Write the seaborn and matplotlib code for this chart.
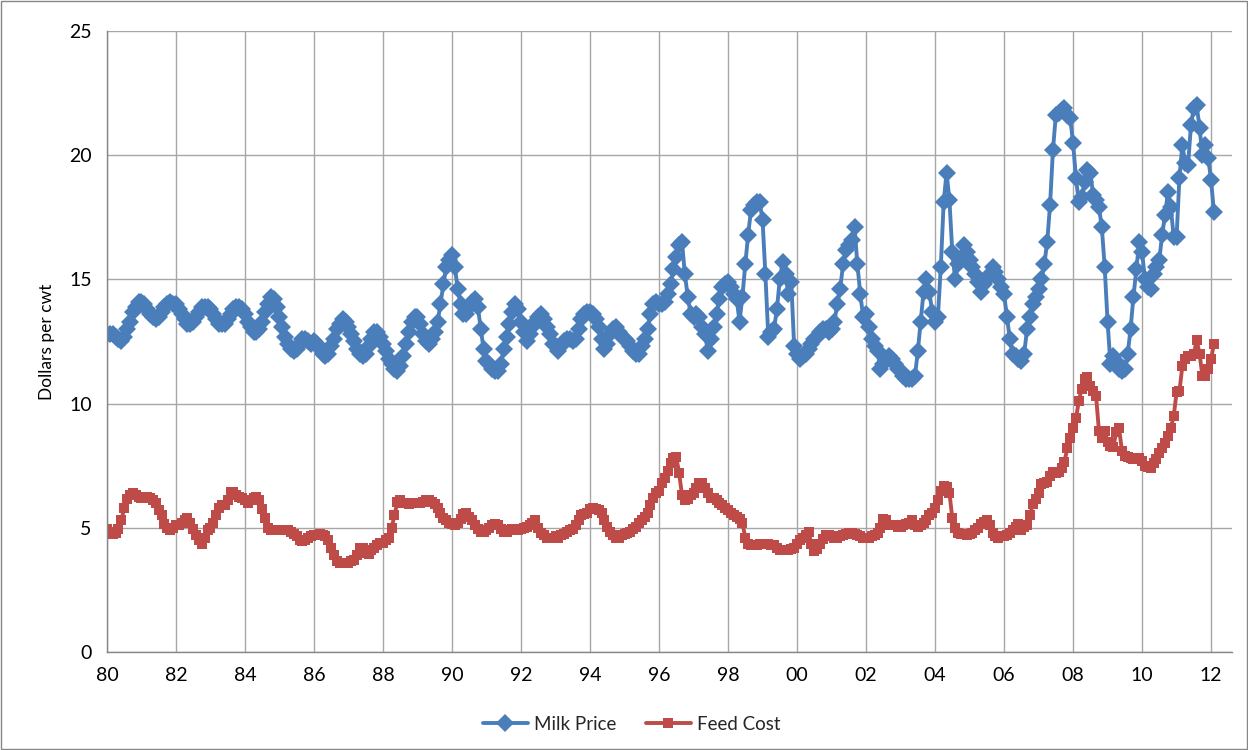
import numpy as np
import pandas as pd
import matplotlib
matplotlib.use("Agg")
import matplotlib.pyplot as plt
import seaborn as sns

# Monthly all-milk price and dairy feed cost, $/cwt, Jan 1980 - Feb 2012
milk_price = [
    12.8, 12.8, 12.8, 12.7, 12.6, 12.5, 12.7, 13.0, 13.3, 13.7, 13.9, 14.1,  # 1980
    14.1, 14.0, 13.8, 13.6, 13.5, 13.4, 13.5, 13.7, 13.9, 14.0, 14.1, 14.0,  # 1981
    14.0, 13.8, 13.6, 13.4, 13.2, 13.2, 13.3, 13.5, 13.7, 13.9, 13.9, 13.9,  # 1982
    13.8, 13.6, 13.4, 13.2, 13.2, 13.2, 13.4, 13.6, 13.8, 13.9, 13.9, 13.8,  # 1983
    13.6, 13.3, 13.1, 12.9, 12.9, 13.0, 13.3, 13.7, 14.0, 14.3, 14.2, 13.9,  # 1984
    13.5, 13.1, 12.7, 12.4, 12.2, 12.1, 12.2, 12.4, 12.6, 12.6, 12.5, 12.4,  # 1985
    12.5, 12.4, 12.2, 12.0, 11.9, 12.0, 12.3, 12.6, 13.0, 13.2, 13.4, 13.3,  # 1986
    13.1, 12.8, 12.5, 12.2, 12.0, 11.9, 12.0, 12.3, 12.6, 12.9, 12.9, 12.7,  # 1987
    12.4, 12.1, 11.8, 11.6, 11.4, 11.3, 11.5, 11.9, 12.4, 12.9, 13.3, 13.5,  # 1988
    13.5, 13.2, 12.8, 12.5, 12.4, 12.6, 12.9, 13.3, 14.0, 14.8, 15.5, 15.8,  # 1989
    16.0, 15.5, 14.6, 14.0, 13.6, 13.6, 13.9, 14.1, 14.2, 13.9, 13.0, 12.2,  # 1990
    11.7, 11.6, 11.4, 11.3, 11.3, 11.6, 12.2, 12.7, 13.2, 13.7, 14.0, 13.8,  # 1991
    13.3, 12.9, 12.5, 12.8, 13.1, 13.3, 13.5, 13.6, 13.4, 13.1, 12.8, 12.4,  # 1992
    12.3, 12.1, 12.3, 12.5, 12.6, 12.6, 12.5, 12.6, 13.0, 13.4, 13.6, 13.7,  # 1993
    13.7, 13.6, 13.4, 13.1, 12.6, 12.2, 12.4, 12.8, 13.0, 13.1, 12.9, 12.7,  # 1994
    12.6, 12.5, 12.3, 12.1, 12.0, 12.0, 12.3, 12.6, 13.0, 13.6, 14.0, 14.1,  # 1995
    14.0, 14.0, 14.1, 14.4, 14.8, 15.4, 15.9, 16.4, 16.5, 15.2, 14.3, 13.6,  # 1996
    13.5, 13.6, 13.5, 13.1, 12.8, 12.1, 12.6, 13.1, 13.6, 14.2, 14.7, 14.8,  # 1997
    14.9, 14.7, 14.4, 14.2, 13.3, 14.3, 15.6, 16.8, 17.8, 18.0, 18.1, 18.1,  # 1998
    17.4, 15.2, 12.7, 12.9, 13.0, 13.8, 15.0, 15.7, 15.2, 14.4, 14.9, 12.3,  # 1999
    12.0, 11.8, 11.9, 12.0, 12.2, 12.4, 12.6, 12.7, 12.9, 13.0, 13.0, 12.9,  # 2000
    13.0, 13.3, 14.0, 14.6, 15.6, 16.2, 16.4, 16.6, 17.1, 15.6, 14.4, 13.5,  # 2001
    13.6, 13.1, 12.6, 12.3, 12.1, 11.4, 11.6, 11.8, 11.9, 11.8, 11.6, 11.4,  # 2002
    11.3, 11.1, 11.0, 11.0, 11.0, 11.1, 12.1, 13.3, 14.5, 15.0, 14.5, 13.7,  # 2003
    13.3, 13.5, 15.5, 18.1, 19.3, 18.2, 16.1, 15.0, 15.6, 15.8, 16.4, 16.1,  # 2004
    15.8, 15.5, 15.2, 14.9, 14.5, 14.8, 15.0, 15.2, 15.5, 15.3, 15.0, 14.7,  # 2005
    14.4, 13.5, 12.6, 12.0, 11.9, 11.8, 11.7, 12.0, 13.0, 13.5, 14.0, 14.3,  # 2006
    14.6, 15.0, 15.6, 16.5, 18.0, 20.2, 21.6, 21.7, 21.8, 21.9, 21.6, 21.5,  # 2007
    20.5, 19.1, 18.1, 18.3, 18.9, 19.4, 19.3, 18.4, 18.2, 17.9, 17.1, 15.5,  # 2008
    13.3, 11.6, 11.9, 11.7, 11.4, 11.3, 11.4, 12.0, 13.0, 14.3, 15.4, 16.5,  # 2009
    16.1, 15.0, 14.7, 14.6, 15.2, 15.5, 15.8, 16.8, 17.6, 18.5, 17.9, 16.7,  # 2010
    16.7, 19.1, 20.4, 19.7, 19.6, 21.2, 21.9, 22.0, 21.1, 20.0, 20.4, 19.9,  # 2011
    19.0, 17.7,                                                              # 2012
]

feed_cost = [
    4.95, 4.85, 4.75, 4.8, 4.95, 5.3, 5.8, 6.15, 6.3, 6.4, 6.3, 6.25,       # 1980
    6.2, 6.2, 6.25, 6.2, 6.1, 6.0, 5.7, 5.5, 5.15, 5.0, 4.9, 5.0,           # 1981
    5.1, 5.1, 5.2, 5.3, 5.4, 5.2, 4.95, 4.7, 4.5, 4.35, 4.6, 4.9,           # 1982
    5.0, 5.2, 5.5, 5.8, 5.9, 5.9, 6.1, 6.45, 6.45, 6.3, 6.25, 6.2,          # 1983
    6.1, 6.0, 6.1, 6.2, 6.25, 6.1, 5.75, 5.4, 5.0, 4.9, 4.9, 4.9,           # 1984
    4.9, 4.9, 4.9, 4.9, 4.85, 4.75, 4.65, 4.5, 4.45, 4.5, 4.6, 4.65,        # 1985
    4.7, 4.7, 4.75, 4.7, 4.65, 4.5, 4.2, 3.9, 3.65, 3.6, 3.6, 3.6,          # 1986
    3.6, 3.65, 3.7, 3.9, 4.2, 4.2, 4.0, 3.95, 4.1, 4.2, 4.3, 4.4,           # 1987
    4.4, 4.5, 4.6, 5.0, 5.5, 6.05, 6.1, 6.0, 6.0, 5.95, 6.0, 6.0,           # 1988
    6.0, 6.0, 6.05, 6.1, 6.1, 6.05, 5.95, 5.8, 5.6, 5.4, 5.3, 5.2,          # 1989
    5.15, 5.1, 5.2, 5.35, 5.55, 5.6, 5.45, 5.3, 5.1, 4.95, 4.85, 4.85,      # 1990
    4.9, 5.0, 5.1, 5.15, 5.1, 4.95, 4.85, 4.85, 4.9, 4.95, 4.9, 4.9,        # 1991
    4.95, 5.0, 5.05, 5.1, 5.2, 5.3, 5.0, 4.8, 4.7, 4.6, 4.6, 4.6,           # 1992
    4.65, 4.6, 4.7, 4.75, 4.85, 4.9, 4.95, 5.1, 5.3, 5.5, 5.55, 5.6,        # 1993
    5.75, 5.8, 5.75, 5.7, 5.6, 5.3, 5.05, 4.85, 4.7, 4.6, 4.6, 4.7,         # 1994
    4.75, 4.8, 4.85, 4.95, 5.05, 5.2, 5.3, 5.45, 5.6, 5.9, 6.2, 6.4,        # 1995
    6.5, 6.8, 7.0, 7.3, 7.6, 7.8, 7.85, 7.2, 6.3, 6.1, 6.15, 6.3,           # 1996
    6.4, 6.6, 6.8, 6.8, 6.6, 6.4, 6.2, 6.2, 6.1, 6.0, 5.9, 5.8,             # 1997
    5.7, 5.6, 5.5, 5.45, 5.35, 5.2, 4.6, 4.35, 4.3, 4.3, 4.3, 4.35,         # 1998
    4.35, 4.35, 4.35, 4.3, 4.3, 4.2, 4.1, 4.1, 4.1, 4.1, 4.15, 4.2,         # 1999
    4.35, 4.5, 4.6, 4.7, 4.85, 4.35, 4.05, 4.15, 4.35, 4.55, 4.7, 4.7,      # 2000
    4.65, 4.6, 4.6, 4.65, 4.7, 4.75, 4.8, 4.8, 4.75, 4.7, 4.65, 4.6,        # 2001
    4.6, 4.6, 4.65, 4.7, 4.8, 5.0, 5.35, 5.3, 5.1, 5.1, 5.1, 5.05,          # 2002
    5.05, 5.1, 5.15, 5.2, 5.3, 5.1, 5.05, 5.1, 5.2, 5.3, 5.5, 5.6,          # 2003
    5.8, 6.1, 6.5, 6.7, 6.65, 6.4, 5.4, 5.0, 4.8, 4.75, 4.75, 4.7,          # 2004
    4.75, 4.8, 4.9, 5.0, 5.15, 5.25, 5.3, 5.1, 4.8, 4.65, 4.6, 4.65,        # 2005
    4.65, 4.7, 4.8, 4.9, 5.05, 5.15, 4.9, 5.05, 5.1, 5.5, 5.95, 6.15,       # 2006
    6.4, 6.75, 6.8, 6.85, 7.1, 7.25, 7.2, 7.25, 7.4, 7.65, 8.2, 8.6,        # 2007
    9.0, 9.4, 10.1, 10.6, 11.0, 11.05, 10.7, 10.5, 10.3, 8.9, 8.6, 8.9,     # 2008
    8.45, 8.3, 8.25, 8.85, 9.0, 8.1, 7.9, 7.85, 7.8, 7.75, 7.75, 7.8,       # 2009
    7.7, 7.5, 7.45, 7.4, 7.6, 7.75, 8.0, 8.2, 8.4, 8.7, 9.0, 9.5,           # 2010
    10.45, 10.5, 11.5, 11.8, 11.9, 11.9, 12.0, 12.55, 12.0, 11.1, 11.1, 11.4,  # 2011
    11.8, 12.4,                                                             # 2012
]

series_names = ["Milk Price", "Feed Cost"]
series_colors = ["#4a7ebb", "#be4b48"]
year_ticks = list(range(1980, 2013, 2))
year_labels = [f"{y % 100:02d}" for y in year_ticks]
y_ticks = [0, 5, 10, 15, 20, 25]

# monthly dates as decimal years
dates = pd.date_range("1980-01-01", periods=len(milk_price), freq="MS")
t = dates.year + (dates.month - 1) / 12.0

df = pd.DataFrame({
    "t": np.concatenate([t, t]),
    "value": milk_price + feed_cost,
    "series": [series_names[0]] * len(milk_price) + [series_names[1]] * len(feed_cost),
})

sns.set_theme(style="white")
plt.rcParams["font.family"] = ["Lato", "DejaVu Sans"]

fig = plt.figure(figsize=(12.48, 7.5), dpi=100)
ax = fig.add_axes([0.0857, 0.1307, 0.9013, 0.828])

markers = {"Milk Price": "D", "Feed Cost": "s"}
sizes = {"Milk Price": 8.8, "Feed Cost": 6.6}
for name, color in zip(series_names, series_colors):
    sub = df[df["series"] == name]
    sns.lineplot(data=sub, x="t", y="value", ax=ax, color=color,
                 linewidth=2.8, marker=markers[name], markersize=sizes[name],
                 markeredgewidth=0, label=name, estimator=None, legend=False)

ax.set_xlim(1980, 2012.6)
ax.set_ylim(0, 25)
ax.set_xticks(year_ticks)
ax.set_xticklabels(year_labels)
ax.set_yticks(y_ticks)
ax.set_xlabel("")
ax.set_ylabel("Dollars per cwt", fontsize=12.5, color="#000000", labelpad=10)

ax.grid(True, color="#a6a6a6", linewidth=1.0)
ax.set_axisbelow(True)
for side in ["top", "right"]:
    ax.spines[side].set_visible(False)
for side in ["left", "bottom"]:
    ax.spines[side].set_color("#868686")
    ax.spines[side].set_linewidth(1.0)
ax.tick_params(axis="both", labelsize=14, colors="#000000", length=5,
               color="#868686", direction="out")
ax.tick_params(axis="x", pad=6)
ax.tick_params(axis="y", pad=6)

# legend centred under the chart area
handles = ax.get_lines()[:2]
fig.legend(handles, series_names, loc="center", bbox_to_anchor=(0.506, 1 - 724 / 750),
           ncol=2, frameon=False, fontsize=13.5, handlelength=2.4,
           columnspacing=1.6, handletextpad=0.3)

# thin chart-area border
fig.patches.append(plt.Rectangle((0.001, 0.001), 0.998, 0.998, transform=fig.transFigure,
                                 fill=False, edgecolor="#868686", linewidth=1.0))

fig.savefig("out.png", dpi=100, facecolor="white")
